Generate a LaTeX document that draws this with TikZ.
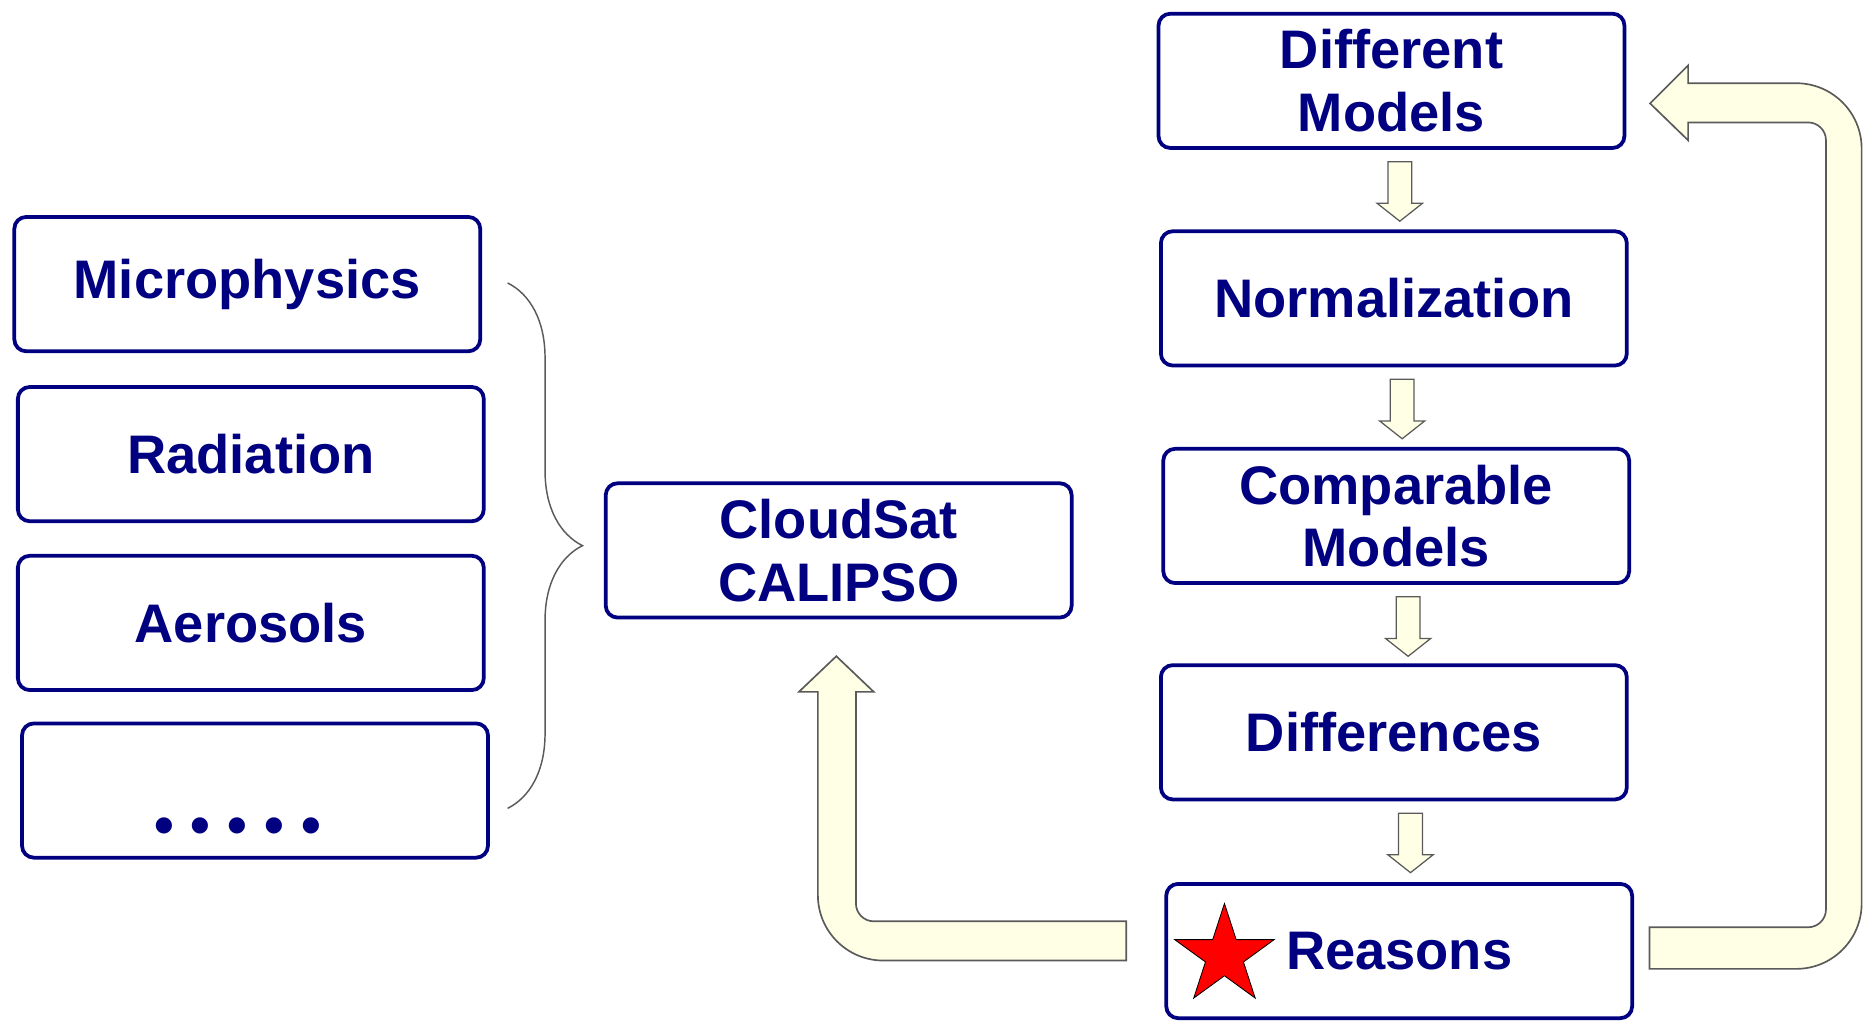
\documentclass[tikz,border=0pt]{standalone}
\usepackage{fontspec}
\setmainfont{Liberation Sans}
\usetikzlibrary{calc,shapes.geometric,decorations.pathreplacing}
\definecolor{boxblue}{RGB}{0,0,128}
\definecolor{arrowfill}{RGB}{255,255,230}
\definecolor{arrowline}{RGB}{90,90,90}

\begin{document}
\begin{tikzpicture}[x=0.02cm,y=0.02cm,
	box/.style={draw=boxblue,line width=1.8pt,rounded corners=0.2cm,minimum width=7.84cm,minimum height=2.26cm,
		align=center,text=boxblue,font=\fontsize{26}{30}\selectfont\bfseries,inner sep=0pt},
	bigarrow/.style={draw=arrowline,fill=arrowfill,line width=0.8pt},
	smallarrow/.style={draw=arrowline,fill=arrowfill,line width=0.6pt},
	bracket/.style={draw=arrowline,line width=0.7pt,decorate,decoration={brace,amplitude=1.26cm}}]
	\useasboundingbox (0,0) rectangle (1568,-859);
	\node[box] (micro) at (208,-239) {Microphysics};
	\node[box] (rad) at (211,-382) {Radiation};
	\node[box] (aero) at (211,-524) {Aerosols};
	\node[box] (more) at (214.5,-665) {};
	\node[text=boxblue,font=\fontsize{27}{30}\selectfont\bfseries,inner sep=0pt] (dots) at ($(more.center)+(-14.5,-34)$)
		{\textbullet\hspace{8.2pt}\textbullet\hspace{8.2pt}\textbullet\hspace{8.2pt}\textbullet\hspace{8.2pt}\textbullet};
	\node[box] (cloud) at (705.5,-463) {CloudSat\\CALIPSO};
	\node[box] (dm) at (1170.5,-68) {Different\\Models};
	\node[box] (norm) at (1172.5,-251) {Normalization};
	\node[box] (comp) at (1174.5,-434) {Comparable\\Models};
	\node[box] (diff) at (1172.5,-616) {Differences};
	\node[box] (reas) at (1177,-800) {Reasons};
	\node[star,star points=5,star point ratio=2.618,minimum size=1.76cm,inner sep=0pt,fill=red,draw=black,line width=0.4pt] (mark1) at (1030,-804) {};
	\coordinate (btop) at (427,-238);
	\coordinate (bbot) at (427,-680);
	\draw[bracket] (btop) -- (bbot);
	\foreach \up/\dx in {dm/7,norm/7,comp/10,diff/14}
		\draw[smallarrow] ($(\up.south)+(\dx-10,-10)$) -- ++(0,-35) -- ++(-9,0) -- ++(19,-15) -- ++(19,15) -- ++(-9,0) -- ++(0,35) -- cycle;
	\draw[bigarrow] ($(reas.west)+(-32,25)$) -- (735,-775) arc[start angle=270,end angle=180,radius=15]
		-- (720,-582) -- (735,-582) -- (703.5,-552) -- (672,-582) -- (688,-582)
		-- (688,-753) arc[start angle=180,end angle=270,radius=55] -- ($(reas.west)+(-32,-8)$) -- cycle;
	\draw[bigarrow] ($(reas.east)+(13,20)$) -- (1521,-780) arc[start angle=270,end angle=360,radius=15]
		-- (1536,-118) arc[start angle=0,end angle=90,radius=15] -- (1420,-103) -- (1420,-118)
		-- ($(dm.east)+(20,-19)$) -- (1420,-55) -- (1420,-70) -- (1511,-70)
		arc[start angle=90,end angle=0,radius=55] -- (1566,-760)
		arc[start angle=0,end angle=-90,radius=55] -- ($(reas.east)+(13,-15)$) -- cycle;
\end{tikzpicture}
\end{document}
